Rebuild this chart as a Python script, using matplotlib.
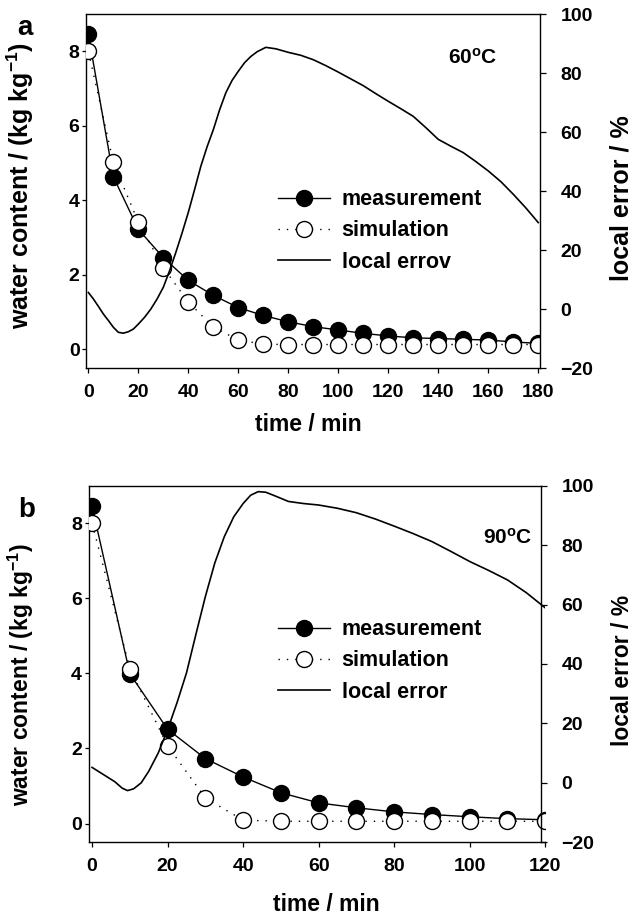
import matplotlib
matplotlib.use('Agg')
import matplotlib.pyplot as plt
from matplotlib.lines import Line2D

plt.rcParams['font.family'] = ['Liberation Sans', 'DejaVu Sans']
plt.rcParams['font.weight'] = 'bold'
plt.rcParams['mathtext.fontset'] = 'custom'
plt.rcParams['mathtext.rm'] = 'Liberation Sans:bold'
plt.rcParams['mathtext.it'] = 'Liberation Sans:bold'
plt.rcParams['mathtext.bf'] = 'Liberation Sans:bold'
plt.rcParams['axes.linewidth'] = 1.0

# panel a, 60 C
time_a = [0, 10, 20, 30, 40, 50, 60, 70, 80, 90, 100, 110, 120, 130, 140, 150, 160, 170, 180]
meas_a = [8.45, 4.63, 3.22, 2.46, 1.85, 1.45, 1.12, 0.91, 0.74, 0.61, 0.52, 0.43, 0.36, 0.31, 0.29, 0.27, 0.25, 0.20, 0.16]
sim_a = [8.0, 5.02, 3.41, 2.19, 1.27, 0.60, 0.25, 0.14, 0.13, 0.13, 0.13, 0.13, 0.13, 0.13, 0.13, 0.13, 0.13, 0.13, 0.13]
err_time_a = [0, 2, 4, 6, 8, 10, 12, 14, 16, 18, 20, 22.5, 25, 27.5, 30, 32.5, 35, 37.5, 40, 42.5, 45,
              47.5, 50, 52.5, 55, 57.5, 60, 62.5, 65, 67.5, 71, 75, 80, 85, 90, 95, 100, 105, 110, 115,
              120, 125, 130, 135, 140, 145, 150, 155, 160, 165, 170, 175, 180]
err_a = [5.6, 3.4, 0.9, -1.7, -3.9, -6.2, -7.9, -8.2, -7.7, -6.8, -5.1, -2.8, 0.0, 3.4, 7.4, 13.0, 19.2,
         25.8, 32.8, 40.5, 48.4, 55.0, 60.8, 67.5, 73.3, 77.5, 80.6, 83.5, 85.6, 87.2, 88.7, 88.2, 87.0,
         86.0, 84.5, 82.5, 80.3, 78.0, 75.7, 73.0, 70.4, 67.9, 65.3, 61.5, 57.5, 55.2, 53.0, 50.0, 46.8,
         43.2, 38.9, 34.3, 29.3]

# panel b, 90 C
time_b = [0, 10, 20, 30, 40, 50, 60, 70, 80, 90, 100, 110, 120]
meas_b = [8.45, 3.99, 2.51, 1.73, 1.24, 0.82, 0.55, 0.42, 0.31, 0.24, 0.18, 0.13, 0.10]
sim_b = [8.0, 4.13, 2.07, 0.68, 0.09, 0.06, 0.06, 0.06, 0.06, 0.06, 0.06, 0.06, 0.06]
err_time_b = [0, 2, 4, 6, 8, 9.4, 11, 13, 15, 17.5, 20, 22.5, 25, 27.5, 30, 32.5, 35, 37.5, 40, 42, 44,
              46, 48, 52, 56, 60, 65, 70, 75, 80, 85, 90, 95, 100, 105, 110, 115, 120]
err_b = [5.2, 3.6, 2.0, 0.4, -1.8, -2.6, -2.0, 0.0, 3.9, 10.0, 17.9, 27.0, 37.0, 50.0, 62.7, 74.0, 82.8,
         89.5, 94.0, 96.8, 98.0, 97.8, 96.8, 94.7, 94.0, 93.5, 92.4, 90.9, 88.8, 86.4, 83.9, 81.2, 77.9,
         74.5, 71.5, 68.3, 64.0, 58.9]

W, H = 633, 919
fig = plt.figure(figsize=(W / 100, H / 100), dpi=100)


def px(x0, y0, x1, y1):
    # pixel box -> figure fraction rect
    return [x0 / W, 1 - y1 / H, (x1 - x0) / W, (y1 - y0) / H]


def panel(rect, t, meas, sim, et, err, xmax, xright, ylab_size, lab_coords, leg_top, legend_labels):
    ax = fig.add_axes(rect)
    ax2 = ax.twinx()

    ax.plot(t, meas, color='k', lw=1.0, marker='o', ms=11.5, mfc='k', mec='k', zorder=3)
    ax.plot(t, sim, color='k', lw=1.0, ls=(0, (1, 5)), marker='o', ms=11.5, mfc='white',
            mec='k', mew=1.0, zorder=4)
    ax2.plot(et, err, color='k', lw=1.2)

    ax.set_xlim(-0.95, xmax)
    ax.set_ylim(-0.5, 9.0)
    ax2.set_ylim(-20, 100)
    ax.set_xticks(range(0, int(xmax) + 1, 20))
    ax.set_yticks([0, 2, 4, 6, 8])
    ax2.set_yticks(range(-20, 101, 20))

    ax.spines['right'].set_visible(False)
    ax.spines['top'].set_bounds(-0.95, xright)
    for s in ['top', 'left', 'bottom']:
        ax2.spines[s].set_visible(False)
    ax2.spines['right'].set_position(('data', xright))

    ax.tick_params(axis='x', direction='out', length=3.3, width=0.9, labelsize=14, pad=8)
    ax.tick_params(axis='y', direction='out', length=3.1, width=0.9, labelsize=14, pad=1.5)
    ax2.tick_params(axis='y', direction='out', length=4.3, width=0.9, labelsize=14, pad=10.5)

    ax.set_xlabel('time / min', fontsize=16.5, fontweight='bold')
    ax.set_ylabel('water content / (kg kg$^{-1}$)', fontsize=ylab_size, fontweight='bold')
    ax2.set_ylabel('local error / %', fontsize=ylab_size, fontweight='bold')
    ax.xaxis.set_label_coords(*lab_coords[0])
    ax.yaxis.set_label_coords(*lab_coords[1])
    ax2.yaxis.set_label_coords(*lab_coords[2])

    handles = [
        Line2D([], [], color='k', lw=1.0, marker='o', ms=11.5, mfc='k', mec='k'),
        Line2D([], [], color='k', lw=1.0, ls=(0, (1, 5)), marker='o', ms=11.5, mfc='white', mec='k'),
        Line2D([], [], color='k', lw=1.2),
    ]
    ax2.legend(handles, legend_labels, loc='upper left', bbox_to_anchor=(278 / W, 1 - leg_top / H),
               bbox_transform=fig.transFigure, frameon=False, prop={'size': 15.5, 'weight': 'bold'},
               handlelength=2.4, handletextpad=0.55, labelspacing=0.47, borderpad=0, borderaxespad=0)
    return ax, ax2


panel(px(86, 14, 540, 368), time_a, meas_a, sim_a, err_time_a, err_a, 180.7, 180.7, 18,
      [(0.49, -0.128), (-0.110, 0.516), (1.152, 0.479)], 189.3,
      ['measurement', 'simulation', 'local errov'])
panel(px(88.5, 485.7, 545.2, 842.3), time_b, meas_b, sim_b, err_time_b, err_b, 120, 118.9, 16.5,
      [(0.521, -0.143), (-0.115, 0.469), (1.144, 0.483)], 619.3,
      ['measurement', 'simulation', 'local error'])

fig.text(17 / W, 1 - 35 / H, 'a', fontsize=20, fontweight='bold', va='baseline')
fig.text(18 / W, 1 - 516.7 / H, 'b', fontsize=20, fontweight='bold', va='baseline')
fig.text(448.3 / W, 1 - 63.3 / H, '60$^{\\mathregular{o}}$C', fontsize=15, fontweight='bold', va='baseline')
fig.text(482.7 / W, 1 - 543.3 / H, '90$^{\\mathregular{o}}$C', fontsize=15, fontweight='bold', va='baseline')

fig.savefig('out.png', dpi=100)
